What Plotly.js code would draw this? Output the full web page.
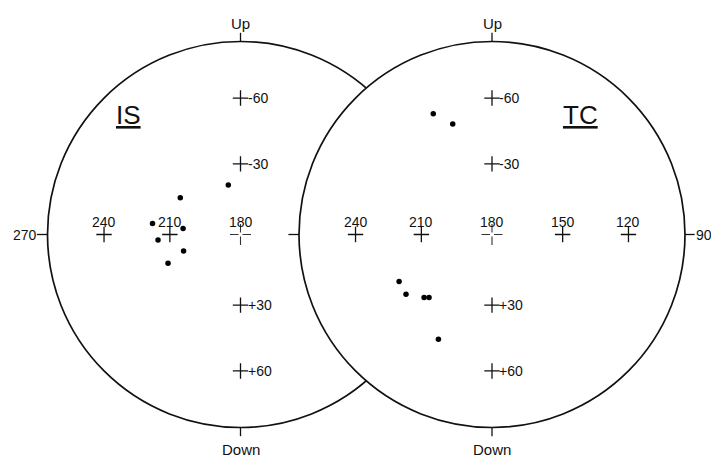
<!DOCTYPE html>
<html>
<head>
<meta charset="utf-8">
<script src="https://cdn.plot.ly/plotly-3.0.1.min.js"></script>
<style>html,body{margin:0;padding:0;background:#fff;}#chart{width:711px;height:457px;}</style>
</head>
<body>
<div id="chart"></div>
<script>
// ---- data (declination, inclination in degrees) ----
const panelNames = ['IS', 'TC'];
const gridDecIS = [240, 210, 180];
const gridDecTC = [240, 210, 180, 150, 120];
const gridInc = [-60, -30, 30, 60];
const gridIncLabels = ['-60', '-30', '+30', '+60'];
const centerDec = 180;
const isDec = [185.4, 206.2, 217.7, 204.3, 215.2, 204.2, 211.3];
const isInc = [-20.9, -15.1, -4.4, -2.5, 2.2, 6.8, 11.6];
const tcDec = [216.0, 202.4, 221.6, 219.5, 211.3, 209.0, 209.4];
const tcInc = [-50.4, -47.0, 18.6, 23.8, 25.7, 25.9, 43.8];

// Lambert equal-area projection centred on D=180, I=0 (rim = 1)
function proj(dec, inc) {
  const d = dec * Math.PI / 180, i = inc * Math.PI / 180;
  const xn = Math.cos(i) * Math.cos(d), ye = Math.cos(i) * Math.sin(d), z = Math.sin(i);
  const k = 1 / Math.sqrt(1 - xn);
  return [ye * k, -z * k];
}
function projArr(decs, incs) {
  const xs = [], ys = [];
  decs.forEach((d, j) => { const p = proj(d, incs[j]); xs.push(p[0]); ys.push(p[1]); });
  return {x: xs, y: ys};
}

const INK = '#111';
const LBL = {family: 'Liberation Sans, Arial, sans-serif', size: 14, color: INK};
const NARROW = {family: 'Liberation Sans Narrow, Liberation Sans, sans-serif', size: 15, color: INK};

const traces = [];
const annotations = [];
const shapes = [];

function panel(xr, yr, gridDec, dec, inc, name, side) {
  const crossMarker = {symbol: 'cross-thin-open', size: 11, color: INK, line: {width: 1.3, color: INK}};
  // equator crosses (except centre)
  const eqDec = gridDec.filter(d => d !== centerDec);
  const eq = projArr(eqDec, eqDec.map(() => 0));
  traces.push({x: eq.x, y: eq.y, xaxis: xr, yaxis: yr, mode: 'markers', hoverinfo: 'skip', marker: crossMarker});
  // vertical crosses
  const vt = projArr(gridInc.map(() => centerDec), gridInc);
  traces.push({x: vt.x, y: vt.y, xaxis: xr, yaxis: yr, mode: 'markers', hoverinfo: 'skip', marker: crossMarker});
  // broken centre cross
  const c = proj(centerDec, 0);
  traces.push({x: [c[0]], y: [c[1]], xaxis: xr, yaxis: yr, mode: 'markers', hoverinfo: 'skip',
    marker: {symbol: 'cross-thin-open', size: 15, color: '#333', line: {width: 1.1, color: '#333'}}});
  traces.push({x: [c[0]], y: [c[1]], xaxis: xr, yaxis: yr, mode: 'markers', hoverinfo: 'skip',
    marker: {symbol: 'square', size: 4, color: '#fff', line: {width: 0}}});
  // data points
  const pts = projArr(dec, inc);
  traces.push({x: pts.x, y: pts.y, xaxis: xr, yaxis: yr, mode: 'markers', name: name,
    marker: {symbol: 'circle', size: 5.5, color: '#000'}});
  // labels
  gridDec.forEach(d => {
    const p = proj(d, 0);
    annotations.push({xref: xr, yref: yr, x: p[0], y: p[1], text: String(d), showarrow: false,
      yshift: 13, font: LBL});
  });
  gridInc.forEach((v, j) => {
    const p = proj(centerDec, v);
    annotations.push({xref: xr, yref: yr, x: p[0], y: p[1], text: gridIncLabels[j], showarrow: false,
      xanchor: 'left', xshift: 5, yshift: 0, font: LBL});
  });
  annotations.push({xref: xr, yref: yr, x: 0, y: 1, text: 'Up', showarrow: false,
    yanchor: 'bottom', yshift: 8, font: NARROW});
  annotations.push({xref: xr, yref: yr, x: 0, y: -1, text: 'Down', showarrow: false,
    yanchor: 'top', yshift: -11, font: NARROW});
  annotations.push({xref: xr, yref: yr, x: side === 'left' ? -0.58 : 0.46, y: 0.62,
    text: '<u>' + name + '</u>', showarrow: false,
    font: {family: 'Liberation Sans Narrow, Liberation Sans, sans-serif', size: 26, color: INK}});
  // circle
  shapes.push({type: 'circle', xref: xr, yref: yr, x0: -1, x1: 1, y0: -1, y1: 1, layer: 'below',
    line: {color: INK, width: 1.7}, fillcolor: side === 'left' ? 'rgba(0,0,0,0)' : '#fff'});
  // rim ticks
  const tk = {color: INK, width: 1.3};
  shapes.push({type: 'line', xref: xr, yref: yr, x0: 0, x1: 0, y0: 1, y1: 1.045, line: tk, layer: 'below'});
  shapes.push({type: 'line', xref: xr, yref: yr, x0: 0, x1: 0, y0: -1, y1: -1.045, line: tk, layer: 'below'});
  shapes.push({type: 'line', xref: xr, yref: yr, x0: -1, x1: -1.055, y0: 0, y1: 0, line: tk, layer: 'below'});
  if (side === 'right') {
    shapes.push({type: 'line', xref: xr, yref: yr, x0: 1, x1: 1.05, y0: 0, y1: 0, line: tk, layer: 'below'});
    annotations.push({xref: xr, yref: yr, x: 1, y: 0, text: '90', showarrow: false,
      xanchor: 'left', xshift: 9, font: LBL});
  } else {
    annotations.push({xref: xr, yref: yr, x: -1, y: 0, text: '270', showarrow: false,
      xanchor: 'right', xshift: -9, font: LBL});
  }
}

panel('x', 'y', gridDecIS, isDec, isInc, panelNames[0], 'left');
panel('x2', 'y2', gridDecTC, tcDec, tcInc, panelNames[1], 'right');

const W = 711, H = 457, R = 193;
const cxL = 240.5, cxR = 492, cy = 234.5;
const ax = {visible: false, fixedrange: true, showgrid: false, zeroline: false};
const layout = {
  width: W, height: H, margin: {l: 0, r: 0, t: 0, b: 0},
  paper_bgcolor: '#fff', plot_bgcolor: 'rgba(0,0,0,0)', showlegend: false,
  xaxis: Object.assign({}, ax, {domain: [0, 1], anchor: 'y', range: [-cxL / R, (W - cxL) / R]}),
  yaxis: Object.assign({}, ax, {domain: [0, 1], anchor: 'x', range: [-(H - cy) / R, cy / R]}),
  xaxis2: Object.assign({}, ax, {domain: [0, 1], anchor: 'y2', range: [-cxR / R, (W - cxR) / R]}),
  yaxis2: Object.assign({}, ax, {domain: [0, 1], anchor: 'x2', range: [-(H - cy) / R, cy / R]}),
  shapes: shapes, annotations: annotations
};
Plotly.newPlot('chart', traces, layout, {displayModeBar: false, staticPlot: true});
</script>
</body>
</html>
